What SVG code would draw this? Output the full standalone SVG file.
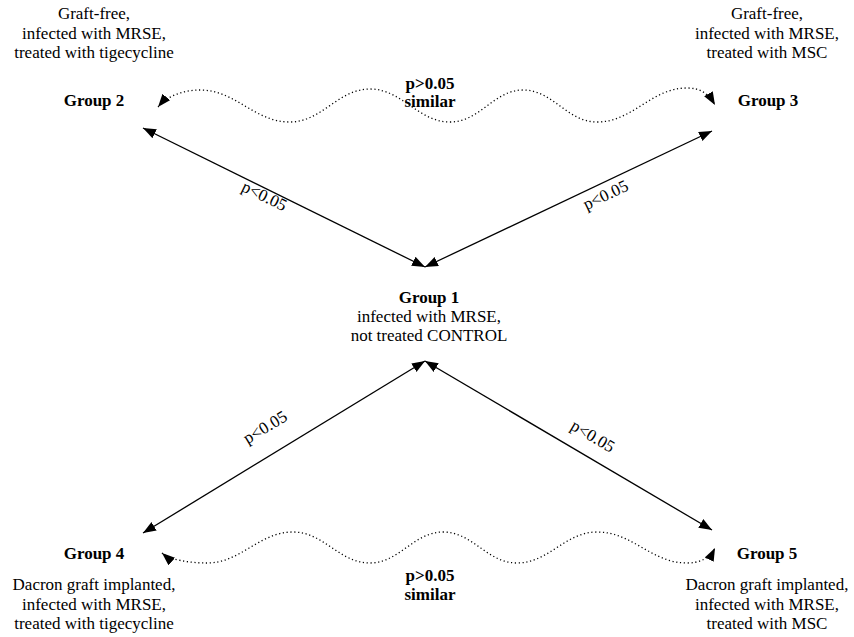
<svg xmlns="http://www.w3.org/2000/svg" width="854" height="637" viewBox="0 0 854 637" font-family="'Liberation Serif', Tinos, 'DejaVu Serif', serif">
<style>
text{font-family:'Liberation Serif', Tinos, 'DejaVu Serif', serif;font-size:17px;fill:#000;text-anchor:middle}
.b{font-weight:bold}
.ln{stroke:#000;stroke-width:1.3;fill:none}
.dt{stroke:#000;stroke-width:1.3;fill:none;stroke-dasharray:1.2 2.6}
</style>
<defs>
<marker id="ah" markerUnits="userSpaceOnUse" markerWidth="14" markerHeight="11" refX="13" refY="5" orient="auto-start-reverse" viewBox="0 0 14 11">
<path d="M0,0 L13,5 L0,10 z" fill="#000"/>
</marker>
</defs>
<rect width="854" height="637" fill="#fff"/>
<g id="connectors">
<line class="ln" x1="143" y1="128" x2="425" y2="267" marker-start="url(#ah)" marker-end="url(#ah)"/>
<line class="ln" x1="712" y1="131" x2="425" y2="267" marker-start="url(#ah)" marker-end="url(#ah)"/>
<line class="ln" x1="425" y1="361" x2="143" y2="533" marker-start="url(#ah)" marker-end="url(#ah)"/>
<line class="ln" x1="425" y1="361" x2="712" y2="530" marker-start="url(#ah)" marker-end="url(#ah)"/>
<path class="dt" d="M158,107 C168,95 185,90 200,90 C236,90 254,122 290,122 C322,122 338,89 370,89 C402,89 418,122 450,122 C480,122 494,90 523,90 C553,90 567,122 597,122 C633,122 651,88 687,88 C700,88 708,93 715,105" marker-start="url(#ah)" marker-end="url(#ah)"/>
<path class="dt" d="M162,553 C170,560 190,563 207,563 C241,563 259,532 293,532 C324,532 339,563 370,563 C399,563 414,532 443,532 C473,532 487,563 517,563 C549,563 565,532 597,532 C633,532 651,563 687,563 C700,563 710,558 715,548" marker-start="url(#ah)" marker-end="url(#ah)"/>
<text transform="translate(262,201) rotate(26)">p&lt;0.05</text>
<text transform="translate(608,200) rotate(-25.5)">p&lt;0.05</text>
<text transform="translate(268,432) rotate(-31)">p&lt;0.05</text>
<text transform="translate(590,441) rotate(30.5)">p&lt;0.05</text>
<text class="b" x="430" y="89">p&gt;0.05</text>
<text class="b" x="430" y="107">similar</text>
<text class="b" x="430" y="581">p&gt;0.05</text>
<text class="b" x="430" y="600">similar</text>
</g>
<g id="group1">
<text class="b" x="429" y="303">Group 1</text>
<text x="429" y="322">infected with MRSE,</text>
<text x="429" y="341">not treated CONTROL</text>
</g>
<g id="group2">
<text x="94" y="19">Graft-free,</text>
<text x="94" y="39">infected with MRSE,</text>
<text x="94" y="58">treated with tigecycline</text>
<text class="b" x="94" y="106">Group 2</text>
</g>
<g id="group3">
<text x="767" y="19">Graft-free,</text>
<text x="767" y="39">infected with MRSE,</text>
<text x="767" y="58">treated with MSC</text>
<text class="b" x="768" y="106">Group 3</text>
</g>
<g id="group4">
<text class="b" x="94" y="559">Group 4</text>
<text x="94" y="590">Dacron graft implanted,</text>
<text x="94" y="610">infected with MRSE,</text>
<text x="94" y="629">treated with tigecycline</text>
</g>
<g id="group5">
<text class="b" x="767" y="559">Group 5</text>
<text x="767" y="590">Dacron graft implanted,</text>
<text x="767" y="610">infected with MRSE,</text>
<text x="767" y="629">treated with MSC</text>
</g>
</svg>
